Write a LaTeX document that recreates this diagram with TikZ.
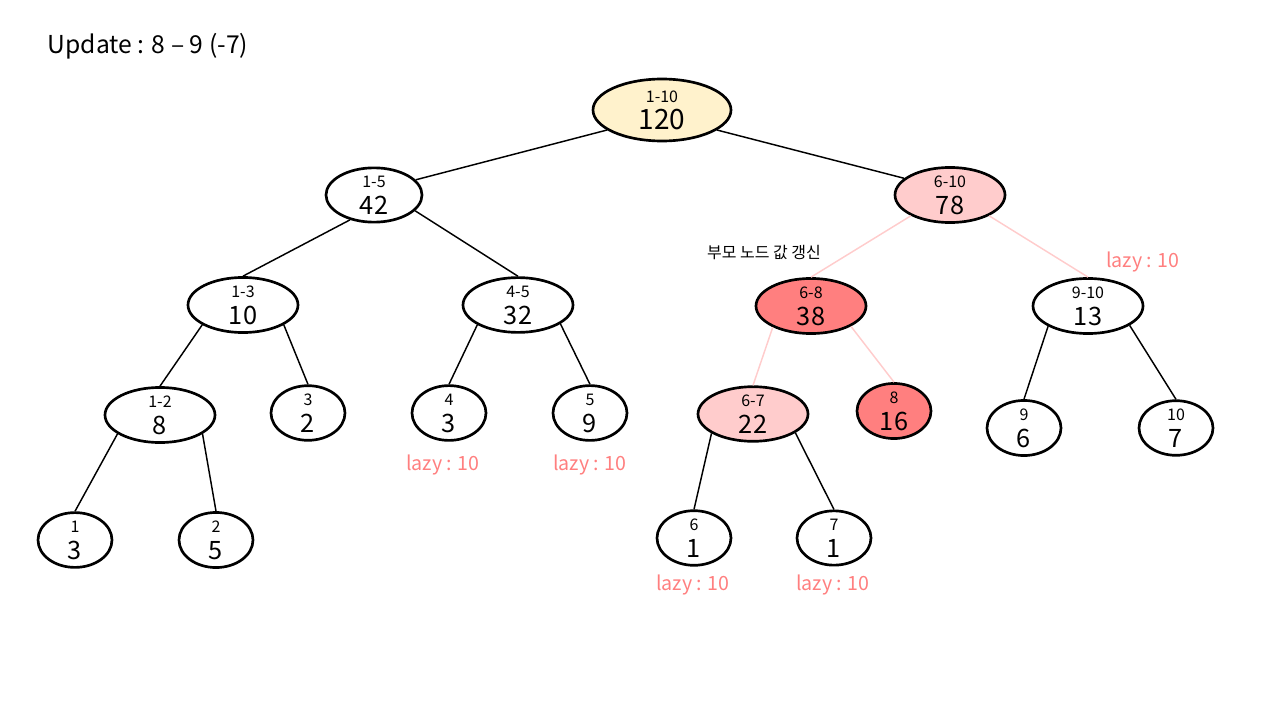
\documentclass[tikz,border=0pt]{standalone}
\usepackage{fontspec}
\setmainfont{Noto Sans CJK KR}
\usetikzlibrary{shapes.geometric}
\definecolor{rootfill}{HTML}{FFF2CC}
\definecolor{lightred}{HTML}{FFCCCC}
\definecolor{deepred}{HTML}{FF7F7F}
\newcommand{\rng}[1]{{\fontsize{12}{13}\selectfont #1}}
\newcommand{\segtext}[2]{\rng{#1}\\[3pt]#2}
\tikzset{
    seg/.style={ellipse, draw=black, line width=2pt, fill=white,
        inner sep=0pt, align=center, minimum width=82.5pt,
        minimum height=36pt, font=\fontsize{19}{17.25}\selectfont},
    leaf/.style={seg, minimum width=55.5pt},
    rootseg/.style={seg, minimum width=103.5pt, minimum height=46.5pt,
        fill=rootfill, font=\fontsize{21}{17.25}\selectfont},
    link/.style={line width=1.1pt},
    hot/.style={line width=1.1pt, draw=lightred},
    lazy/.style={text=deepred, font=\fontsize{14.7}{17}\selectfont}
}
\begin{document}
\begin{tikzpicture}[x=0.75pt, y=-0.75pt]
        \useasboundingbox (0,0) rectangle (1280,720);

        \node[anchor=west, font=\fontsize{18.5}{22}\selectfont]
        (title) at (43,46) {Update : 8 – 9 (-7)};

        % segment tree
        \node[rootseg] (r110) at (662,110) {\segtext{1-10}{120}};
        \node[seg, minimum width=72pt] (r15) at (374,195) {\segtext{1-5}{42}};
        \node[seg, fill=lightred] (r610) at (950,195) {\segtext{6-10}{78}};

        \node[seg] (r13) at (243,305) {\segtext{1-3}{10}};
        \node[seg] (r45) at (518,305) {\segtext{4-5}{32}};
        \node[seg, fill=deepred] (r68) at (811,306) {\segtext{6-8}{38}};
        \node[seg] (r910) at (1088,306) {\segtext{9-10}{13}};

        \node[seg] (r12) at (160,415) {\segtext{1-2}{8}};
        \node[leaf] (r3) at (308,413) {\segtext{3}{2}};
        \node[leaf] (r4) at (449,413) {\segtext{4}{3}};
        \node[leaf] (r5) at (590,413) {\segtext{5}{9}};
        \node[seg, fill=lightred] (r67) at (753,414) {\segtext{6-7}{22}};
        \node[leaf, fill=deepred] (r8) at (894,411) {\segtext{8}{16}};
        \node[leaf] (r9) at (1024,428) {\segtext{9}{6}};
        \node[leaf] (r10) at (1176,428) {\segtext{10}{7}};

        \node[leaf] (r1) at (75,540) {\segtext{1}{3}};
        \node[leaf] (r2) at (216,540) {\segtext{2}{5}};
        \node[leaf] (r6) at (694,538) {\segtext{6}{1}};
        \node[leaf] (r7) at (834,538) {\segtext{7}{1}};

        % edges
        \draw[link] (r110.200) -- (r15.20);
        \draw[link] (r110.340) -- (r610.160);
        \draw[link] (r15.226) -- (r13.north);
        \draw[link] (r15.339) -- (r45.north);
        \draw[link] (r13.206) -- (r12.north);
        \draw[link] (r13.334) -- (r3.north);
        \draw[link] (r45.206) -- (r4.north);
        \draw[link] (r45.336) -- (r5.north);
        \draw[link] (r12.204) -- (r1.north);
        \draw[link] (r12.336) -- (r2.north);
        \draw[link] (r910.207) -- (r9.north);
        \draw[link] (r910.335) -- (r10.north);
        \draw[link] (r67.205) -- (r6.north);
        \draw[link] (r67.336) -- (r7.north);

        \draw[hot] (r610.208) -- (r68.north);
        \draw[hot] (r610.332) -- (r910.north);
        \draw[hot] (r68.209) -- (r67.north);
        \draw[hot] (r68.333) -- (r8.north);

        % notes
        \node[font=\fontsize{12}{14}\selectfont] (note) at (764,253)
        {부모 노드 값 갱신};
        \node[lazy] (lz910) at (1143,262) {lazy : 10};
        \node[lazy] (lz4) at (443,465) {lazy : 10};
        \node[lazy] (lz5) at (590,465) {lazy : 10};
        \node[lazy] (lz6) at (693,585) {lazy : 10};
        \node[lazy] (lz7) at (833,585) {lazy : 10};
\end{tikzpicture}
\end{document}
